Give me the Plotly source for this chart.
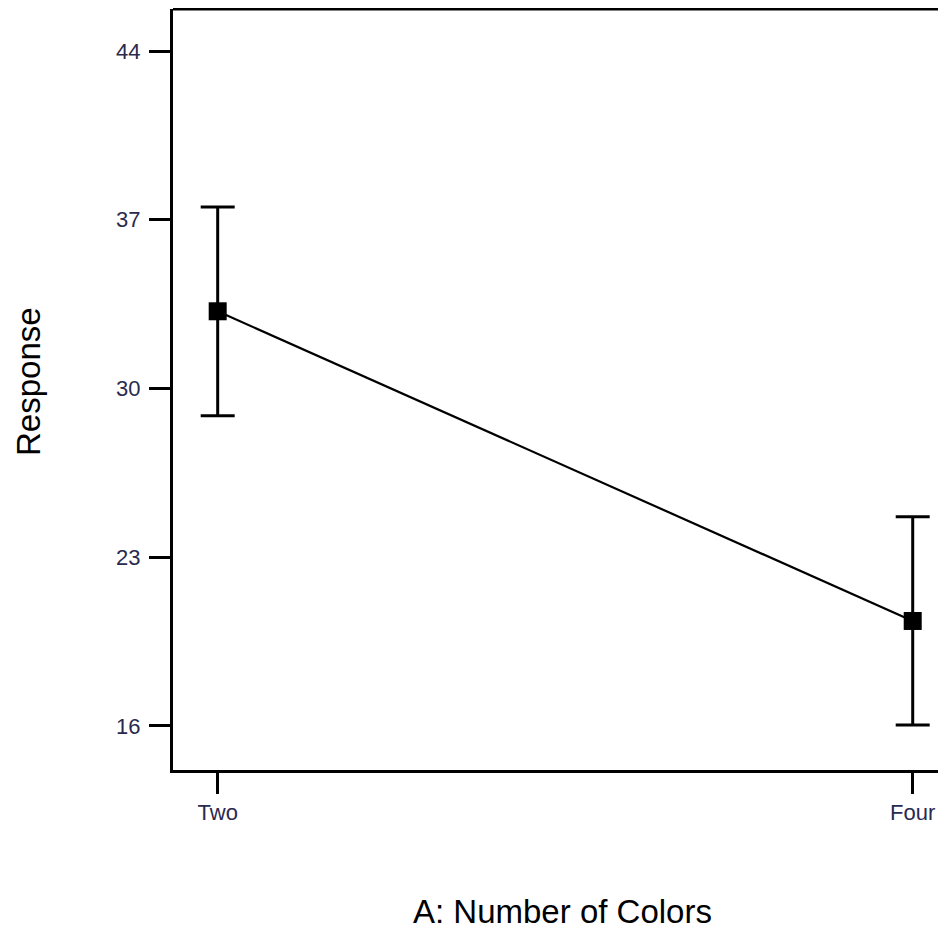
import plotly.graph_objects as go

categories = ["Two", "Four"]
response_mean = [33.2, 20.35]
response_err = [4.33, 4.32]
y_tick_values = [16, 23, 30, 37, 44]
y_tick_labels = ["16", "23", "30", "37", "44"]

tick_font = dict(family="Liberation Sans, Arial, sans-serif", size=22, color="#2a2a50")
title_font = dict(family="Liberation Sans, Arial, sans-serif", size=33, color="black")

# figure is offset by the page's 8px body margin
W, H = 938, 922
L, R, T, B = 165, 0, 1, 160
PW, PH = W - L - R, H - T - B

fig = go.Figure()
fig.add_trace(go.Scatter(
    x=categories, y=response_mean,
    mode="lines+markers",
    line=dict(color="black", width=2.2),
    marker=dict(symbol="square", size=18, color="black"),
    error_y=dict(type="data", array=response_err, visible=True,
                 color="black", thickness=3, width=17),
    showlegend=False,
))

fig.update_layout(
    width=W, height=H,
    margin=dict(l=L, r=R, t=T, b=B),
    paper_bgcolor="white", plot_bgcolor="white",
    xaxis=dict(
        type="category", range=[-0.0643, 1.0479],
        showline=True, linecolor="black", linewidth=3,
        ticks="outside", ticklen=21, tickwidth=3, tickcolor="black",
        showgrid=False, zeroline=False, tickfont=tick_font,
        ticklabelstandoff=0,
    ),
    yaxis=dict(
        range=[14.166, 45.743],
        tickvals=y_tick_values, ticktext=y_tick_labels,
        showline=True, linecolor="black", linewidth=3,
        ticks="outside", ticklen=21, tickwidth=3, tickcolor="black",
        showgrid=False, zeroline=False, tickfont=tick_font,
        ticklabelstandoff=4,
    ),
    shapes=[dict(type="line", xref="paper", yref="paper", x0=0, x1=1, y0=1, y1=1,
                 line=dict(color="black", width=3))],
    annotations=[
        dict(text="Response", xref="paper", yref="paper", x=(20 - L) / PW, y=(762 - 374) / PH,
             xanchor="center", yanchor="middle", textangle=-90, showarrow=False,
             font=title_font),
        dict(text="A: Number of Colors", xref="paper", yref="paper", x=(554 - L) / PW,
             y=-(904 - 762) / PH,
             xanchor="center", yanchor="middle", showarrow=False,
             font=title_font),
    ],
)

fig.write_html("out.html")
